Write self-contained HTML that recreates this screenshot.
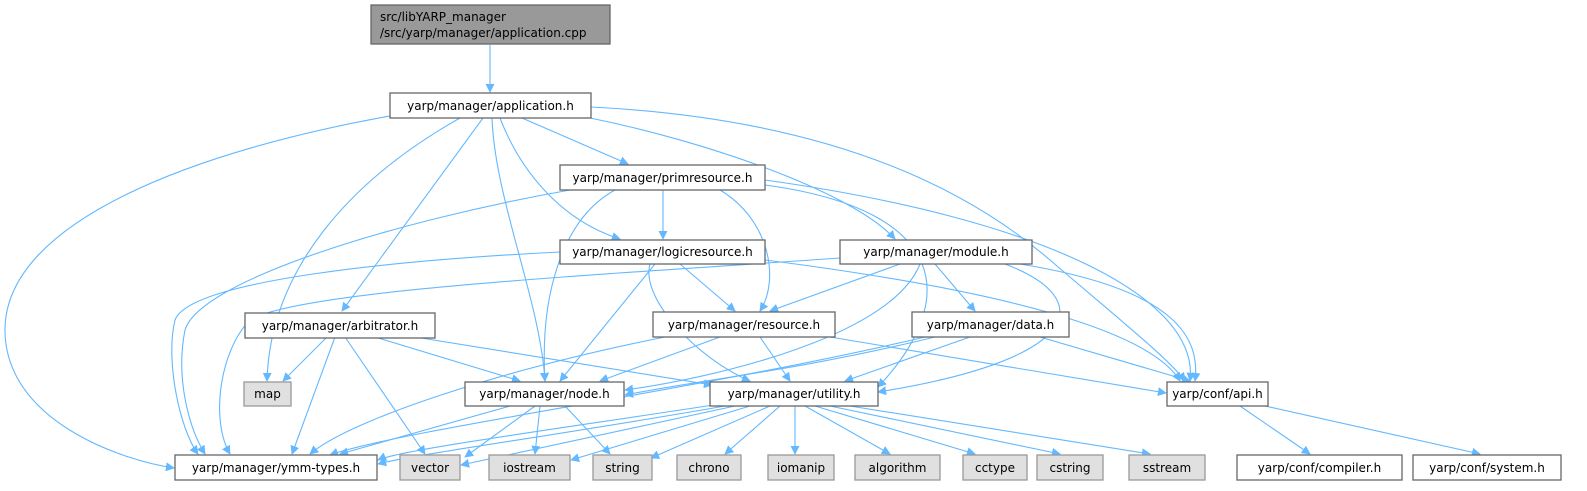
<!DOCTYPE html>
<html><head><meta charset="utf-8"><style>
html,body{margin:0;padding:0;background:#fff;}
svg{display:block;}
text{font-family:"DejaVu Sans","Liberation Sans",sans-serif;font-size:12px;fill:#000;}
.e{fill:none;stroke:#63b8ff;stroke-width:1.1;marker-end:url(#a);}
.n{fill:#fff;stroke:#666;stroke-width:1.3;}
.g{fill:#e0e0e0;stroke:#999;stroke-width:1.3;}
</style></head><body>
<svg width="1587" height="491" viewBox="0 0 1587 491" xmlns="http://www.w3.org/2000/svg">
<defs><marker id="a" viewBox="0 0 10 10" refX="9" refY="5" markerWidth="9" markerHeight="9" orient="auto" markerUnits="userSpaceOnUse"><path d="M0,0 L10,5 L0,10 z" fill="#63b8ff"/></marker></defs>
<g>
<path class="e" d="M490,45 L490,92"/>
<path class="e" d="M390,116 C200,150 5,220 5,330 C5,420 120,460 174,468"/>
<path class="e" d="M460,118 C350,180 270,270 267,381"/>
<path class="e" d="M483,118 L342,311"/>
<path class="e" d="M492,118 C495,200 540,300 545,381"/>
<path class="e" d="M500,118 C520,170 560,220 620,239"/>
<path class="e" d="M522,118 L628,164"/>
<path class="e" d="M590,118 C700,140 850,190 895,239"/>
<path class="e" d="M591,107 C850,120 980,200 1050,260 C1120,320 1170,360 1185,381"/>
<path class="e" d="M570,190 C400,220 200,280 185,330 C175,380 190,430 205,454"/>
<path class="e" d="M663,190 L663,239"/>
<path class="e" d="M615,190 C560,220 540,300 545,381"/>
<path class="e" d="M720,190 C770,220 780,280 760,311"/>
<path class="e" d="M765,185 C950,210 960,300 878,387"/>
<path class="e" d="M765,180 C1050,220 1200,300 1190,381"/>
<path class="e" d="M560,252 C400,260 190,280 175,320 C165,360 180,430 198,454"/>
<path class="e" d="M680,264 L735,311"/>
<path class="e" d="M655,264 L560,381"/>
<path class="e" d="M650,264 C640,300 700,360 750,381"/>
<path class="e" d="M765,260 C1000,290 1150,330 1180,381"/>
<path class="e" d="M900,264 L770,311"/>
<path class="e" d="M935,264 L975,311"/>
<path class="e" d="M920,264 C890,340 700,380 625,390"/>
<path class="e" d="M1005,264 C1100,300 1080,360 878,392"/>
<path class="e" d="M1020,264 C1180,290 1200,340 1195,381"/>
<path class="e" d="M840,258 C600,275 300,290 250,320 C220,350 210,420 230,454"/>
<path class="e" d="M327,337 L283,381"/>
<path class="e" d="M335,337 L292,454"/>
<path class="e" d="M345,337 L425,454"/>
<path class="e" d="M375,337 L520,381"/>
<path class="e" d="M415,337 L712,385"/>
<path class="e" d="M665,337 C500,370 350,420 310,454"/>
<path class="e" d="M720,337 L600,381"/>
<path class="e" d="M760,337 L790,381"/>
<path class="e" d="M830,337 L1166,393"/>
<path class="e" d="M935,337 C800,370 700,380 625,395"/>
<path class="e" d="M925,337 C700,390 400,430 330,455"/>
<path class="e" d="M970,337 L845,381"/>
<path class="e" d="M1040,337 L1190,381"/>
<path class="e" d="M510,406 L340,454"/>
<path class="e" d="M535,406 L465,457"/>
<path class="e" d="M540,406 L535,454"/>
<path class="e" d="M565,406 L610,454"/>
<path class="e" d="M720,404 C550,430 400,450 378,460"/>
<path class="e" d="M725,406 C560,435 410,455 378,464"/>
<path class="e" d="M735,406 L461,465"/>
<path class="e" d="M750,406 L571,460"/>
<path class="e" d="M770,406 L651,458"/>
<path class="e" d="M780,406 L725,454"/>
<path class="e" d="M795,406 L795,454"/>
<path class="e" d="M805,406 L890,454"/>
<path class="e" d="M815,406 L975,454"/>
<path class="e" d="M830,406 L1060,454"/>
<path class="e" d="M850,406 L1150,454"/>
<path class="e" d="M1240,406 L1310,454"/>
<path class="e" d="M1265,406 L1480,454"/>
</g>
<g>
<rect x="371" y="5" width="239" height="39" fill="#999" stroke="#666" stroke-width="1.3"/>
<text x="380" y="21">src/libYARP_manager</text><text x="380" y="37">/src/yarp/manager/application.cpp</text>
<rect class="n" x="390" y="93" width="201" height="25"/><text x="490.5" y="110" text-anchor="middle">yarp/manager/application.h</text>
<rect class="n" x="560" y="165" width="205" height="25"/><text x="662.5" y="182" text-anchor="middle">yarp/manager/primresource.h</text>
<rect class="n" x="560" y="240" width="205" height="24"/><text x="662.5" y="256" text-anchor="middle">yarp/manager/logicresource.h</text>
<rect class="n" x="840" y="240" width="192" height="24"/><text x="936" y="256" text-anchor="middle">yarp/manager/module.h</text>
<rect class="n" x="245" y="313" width="190" height="25"/><text x="340" y="330" text-anchor="middle">yarp/manager/arbitrator.h</text>
<rect class="n" x="653" y="312" width="182" height="25"/><text x="744" y="329" text-anchor="middle">yarp/manager/resource.h</text>
<rect class="n" x="912" y="312" width="157" height="25"/><text x="990.5" y="329" text-anchor="middle">yarp/manager/data.h</text>
<rect class="g" x="244" y="382" width="47" height="24"/><text x="267.5" y="398" text-anchor="middle">map</text>
<rect class="n" x="465" y="382" width="159" height="24"/><text x="544.5" y="398" text-anchor="middle">yarp/manager/node.h</text>
<rect class="n" x="710" y="382" width="168" height="24"/><text x="794" y="398" text-anchor="middle">yarp/manager/utility.h</text>
<rect class="n" x="1167" y="382" width="101" height="24"/><text x="1217.5" y="398" text-anchor="middle">yarp/conf/api.h</text>
<rect class="n" x="175" y="455" width="202" height="25"/><text x="276" y="472" text-anchor="middle">yarp/manager/ymm-types.h</text>
<rect class="g" x="400" y="455" width="60" height="25"/><text x="430" y="472" text-anchor="middle">vector</text>
<rect class="g" x="489" y="455" width="81" height="25"/><text x="529.5" y="472" text-anchor="middle">iostream</text>
<rect class="g" x="593" y="455" width="59" height="25"/><text x="622.5" y="472" text-anchor="middle">string</text>
<rect class="g" x="677" y="455" width="64" height="25"/><text x="709" y="472" text-anchor="middle">chrono</text>
<rect class="g" x="768" y="455" width="66" height="25"/><text x="801" y="472" text-anchor="middle">iomanip</text>
<rect class="g" x="855" y="455" width="85" height="25"/><text x="897.5" y="472" text-anchor="middle">algorithm</text>
<rect class="g" x="963" y="455" width="64" height="25"/><text x="995" y="472" text-anchor="middle">cctype</text>
<rect class="g" x="1037" y="455" width="66" height="25"/><text x="1070" y="472" text-anchor="middle">cstring</text>
<rect class="g" x="1129" y="455" width="76" height="25"/><text x="1167" y="472" text-anchor="middle">sstream</text>
<rect class="n" x="1237" y="455" width="165" height="25"/><text x="1319.5" y="472" text-anchor="middle">yarp/conf/compiler.h</text>
<rect class="n" x="1413" y="455" width="148" height="25"/><text x="1487" y="472" text-anchor="middle">yarp/conf/system.h</text>
</g>
</svg>
</body></html>
